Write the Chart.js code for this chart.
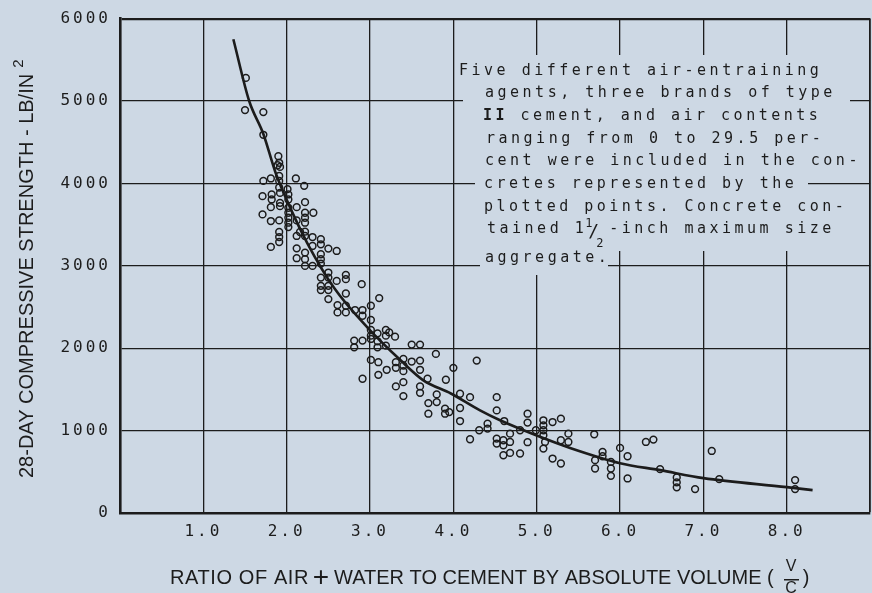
<!DOCTYPE html>
<html>
<head>
<meta charset="utf-8">
<script src="https://cdn.jsdelivr.net/npm/chart.js@4.4.1/dist/chart.umd.min.js"></script>
<style>
  html, body { margin: 0; padding: 0; background: #cdd8e4; overflow: hidden; }
  #wrap { width: 875px; height: 593px; }
</style>
</head>
<body>
<div id="wrap"><canvas id="chart"></canvas></div>
<script>
// ratio of air + water to cement (V/C) for each plotted test
const pointRatio = [
  1.51, 1.50, 1.72, 1.72, 1.90, 1.91, 1.92, 1.89, 1.81, 1.72, 1.91, 1.91, 2.11, 1.91, 2.01, 2.21,
  1.71, 1.82, 1.82, 1.92, 2.02, 1.92, 1.92, 2.02, 1.81, 2.02, 2.12, 2.22, 1.71, 2.02, 2.22, 2.32,
  2.02, 2.22, 1.81, 1.91, 2.02, 2.12, 2.22, 2.02, 1.91, 1.91, 1.91, 2.12, 2.22, 2.22, 2.31, 2.16,
  1.81, 2.12, 2.22, 2.31, 2.41, 2.41, 2.50, 2.60, 2.12, 2.22, 2.22, 2.31, 2.41, 2.41, 2.41, 2.41,
  2.50, 2.50, 2.60, 2.71, 2.71, 2.41, 2.41, 2.50, 2.50, 2.71, 2.50, 2.90,
  2.61, 2.61, 2.71, 2.71, 2.82, 2.91, 2.91, 3.01, 3.11, 3.01, 3.01, 3.01, 3.09, 3.19, 3.23, 3.19,
  3.30, 3.01, 2.91, 2.81, 2.81, 3.09, 3.09, 3.19, 3.50, 3.60, 3.79, 3.01, 3.10, 3.31, 3.40, 3.50,
  3.60, 3.31, 3.40, 3.20, 3.40, 3.60, 3.10, 2.91, 3.69, 3.91, 3.31, 3.40, 3.60, 4.28, 4.00,
  3.40, 3.60, 3.70, 3.70, 3.80, 3.80, 3.90, 3.90, 3.95, 4.08, 4.08, 4.08, 4.20, 4.20, 4.31, 4.41,
  4.41, 4.52, 4.52, 4.52, 4.52, 4.60, 4.60, 4.60, 4.68, 4.68, 4.68, 4.61, 4.80, 4.80, 4.89, 4.89,
  4.89, 4.99, 5.08, 5.08, 5.08, 5.08, 5.10, 5.08, 5.19, 5.19, 5.29, 5.29, 5.29, 5.38, 5.38,
  5.69, 5.70, 5.70, 5.79, 5.79, 5.89, 5.89, 5.89, 6.00, 6.09, 6.09, 6.31, 6.40, 6.48, 6.68, 6.68,
  6.68, 6.90, 7.10, 7.19, 8.10, 8.10
];
// 28-day compressive strength, lb/in2
const pointStrength = [
  5280, 4890, 4865, 4590, 4330, 4250, 4200, 4220, 4060, 4030, 4090, 4030, 4060, 3950, 3930, 3970,
  3845, 3866, 3805, 3885, 3866, 3764, 3724, 3805, 3712, 3704, 3712, 3772, 3624, 3644, 3644, 3644,
  3583, 3583, 3543, 3551, 3523, 3551, 3523, 3470, 3410, 3349, 3289, 3362, 3414, 3362, 3349, 3410,
  3229, 3212, 3160, 3241, 3322, 3261, 3209, 3180, 3092, 3080, 2999, 2999, 3140, 3080, 3027, 2857,
  2918, 2857, 2817, 2890, 2838, 2757, 2705, 2757, 2705, 2664, 2596, 2777,
  2523, 2434, 2515, 2434, 2463, 2463, 2394, 2515, 2608, 2342, 2221, 2152, 2180, 2221, 2192, 2152,
  2140, 2112, 2092, 2092, 2011, 2084, 2011, 2031, 2044, 2044, 1931, 1858, 1830, 1830, 1870, 1838,
  1850, 1762, 1790, 1738, 1721, 1738, 1677, 1629, 1629, 1617, 1536, 1588, 1536, 1850, 1762,
  1419, 1459, 1334, 1205, 1439, 1346, 1266, 1205, 1225, 1447, 1274, 1116, 1406, 895, 1004, 1084,
  1024, 1406, 1245, 903, 843, 883, 822, 701, 963, 862, 729, 1116, 1004, 722, 1205, 1097,
  859, 1004, 1125, 1064, 1004, 943, 862, 782, 1104, 661, 1145, 883, 601, 963, 862,
  955, 641, 540, 741, 689, 620, 540, 451, 790, 689, 419, 862, 891, 532, 432, 371,
  311, 290, 753, 411, 399, 290
];
// fitted curve
const curveRatio = [1.36, 1.55, 1.72, 1.87, 2.0, 2.25, 2.57, 2.97, 3.37, 3.64, 3.97, 4.32, 4.56, 5.0, 5.4, 6.0, 6.48, 7.0, 8.0, 8.31];
const curveStrength = [5750, 5000, 4600, 4120, 3800, 3270, 2730, 2250, 1850, 1610, 1450, 1245, 1125, 940, 790, 605, 520, 423, 314, 278];

const ink = "#1c1c1c";
const paper = "#cdd8e4";
const mono = "'DejaVu Sans Mono', monospace";
const sans = "'Liberation Sans', Arial, sans-serif";

const notePlugin = {
  id: "note",
  beforeDraw(chart) {
    chart.ctx.letterSpacing = "3px";
  },
  beforeDatasetsDraw(chart) {
    const ctx = chart.ctx;
    ctx.save();
    // the note sits on top of the grid, so blank it out first
    ctx.fillStyle = paper;
    ctx.fillRect(463, 55, 387, 121);
    ctx.fillRect(475, 176, 333, 12);
    ctx.fillRect(463, 188, 387, 63);
    ctx.fillRect(480, 251, 128, 24);

    ctx.fillStyle = ink;
    ctx.textBaseline = "middle";
    ctx.textAlign = "left";
    ctx.letterSpacing = "3.5px";
    ctx.font = "15px " + mono;
    const step = 22.7;
    let y = 70.7;
    ctx.fillText("Five different air-entraining", 459, y);
    y += step;
    ctx.fillText("agents, three brands of type", 485, y);
    y += step;
    ctx.font = "bold 15px " + mono;
    ctx.fillText("II", 483, y);
    let w = ctx.measureText("II").width;
    ctx.font = "15px " + mono;
    ctx.fillText(" cement, and air contents", 483 + w, y);
    y += step;
    ctx.fillText("ranging from 0 to 29.5 per-", 486, y);
    y += step;
    ctx.fillText("cent were included in the con-", 485, y);
    y += step;
    ctx.fillText("cretes represented by the", 484, y);
    y += step;
    ctx.fillText("plotted points. Concrete con-", 484, y);
    y += step;
    ctx.fillText("tained 1", 487, y);
    let x = 487 + ctx.measureText("tained 1").width - 2;
    ctx.letterSpacing = "0px";
    ctx.font = "12px " + mono;
    ctx.fillText("1", x, y - 6);
    ctx.font = "18px " + mono;
    ctx.fillText("/", x + 3, y + 3);
    ctx.font = "12px " + mono;
    ctx.fillText("2", x + 11, y + 14);
    ctx.letterSpacing = "3.5px";
    ctx.font = "15px " + mono;
    ctx.fillText("-inch maximum size", x + 24, y);
    ctx.fillText("aggregate.", 485, 258);
    ctx.restore();
  },
  afterDraw(chart) {
    const ctx = chart.ctx;
    ctx.save();
    ctx.fillStyle = ink;
    ctx.textBaseline = "middle";
    ctx.textAlign = "left";

    // x axis title with the V/C fraction
    const y = 578;
    ctx.letterSpacing = "0.6px";
    ctx.font = "20px " + sans;
    ctx.fillText("RATIO OF AIR", 170, y);
    ctx.letterSpacing = "0px";
    ctx.font = "28px " + sans;
    ctx.textAlign = "center";
    ctx.fillText("+", 321, y);
    ctx.textAlign = "left";
    ctx.font = "20px " + sans;
    ctx.fillText("WATER TO CEMENT BY ABSOLUTE VOLUME (", 334, y);
    ctx.font = "16px " + sans;
    ctx.textAlign = "center";
    ctx.fillText("V", 791, y - 11);
    ctx.fillText("C", 791, y + 11);
    ctx.fillRect(784, y + 1, 15, 1.5);
    ctx.font = "20px " + sans;
    ctx.fillText(")", 806, y);

    // y axis title
    ctx.textAlign = "left";
    ctx.translate(27, 478);
    ctx.rotate(-Math.PI / 2);
    ctx.font = "20px " + sans;
    const yTitle = "28-DAY COMPRESSIVE STRENGTH - LB/IN";
    ctx.fillText(yTitle, 0, 0);
    const tw = ctx.measureText(yTitle).width;
    ctx.font = "15px " + sans;
    ctx.fillText("2", tw + 6, -8);
    ctx.restore();
  },
};

new Chart(document.getElementById("chart"), {
  type: "scatter",
  data: {
    datasets: [
      {
        label: "Tests",
        data: pointRatio.map((v, i) => ({ x: v, y: pointStrength[i] })),
        pointRadius: 3.4,
        pointHoverRadius: 3.4,
        pointBorderWidth: 1.5,
        borderColor: ink,
        backgroundColor: "rgba(0, 0, 0, 0)",
      },
      {
        label: "Curve",
        data: curveRatio.map((v, i) => ({ x: v, y: curveStrength[i] })),
        showLine: true,
        borderColor: ink,
        borderWidth: 2.6,
        pointRadius: 0,
        cubicInterpolationMode: "monotone",
        fill: false,
      },
    ],
  },
  options: {
    responsive: true,
    maintainAspectRatio: false,
    animation: false,
    events: [],
    layout: { padding: { top: 17, right: 0, left: 0, bottom: 0 } },
    plugins: { legend: { display: false }, tooltip: { enabled: false } },
    scales: {
      x: {
        type: "linear",
        min: 0,
        max: 9,
        afterFit(scale) {
          scale.height = 80;
          scale.paddingLeft = 0;
          scale.paddingRight = 0;
        },
        grid: {
          color: ink,
          lineWidth: (c) => (c.tick && c.tick.value === 9 ? 1.8 : 1.3),
          drawTicks: false,
        },
        border: { display: true, color: ink, width: 2.6 },
        ticks: {
          stepSize: 1,
          padding: 9,
          color: ink,
          font: { family: mono, size: 16 },
          callback: (v) => (v >= 1 && v <= 8 ? v.toFixed(1) : ""),
        },
      },
      y: {
        min: 0,
        max: 6000,
        afterFit(scale) { scale.width = 120; },
        grid: {
          color: ink,
          lineWidth: (c) => (c.tick && c.tick.value === 6000 ? 2.2 : 1.3),
          drawTicks: false,
        },
        border: { display: true, color: ink, width: 2.6 },
        ticks: {
          stepSize: 1000,
          padding: 9,
          color: ink,
          font: { family: mono, size: 16 },
          callback: (v) => String(v),
        },
      },
    },
  },
  plugins: [notePlugin],
});
</script>
</body>
</html>
